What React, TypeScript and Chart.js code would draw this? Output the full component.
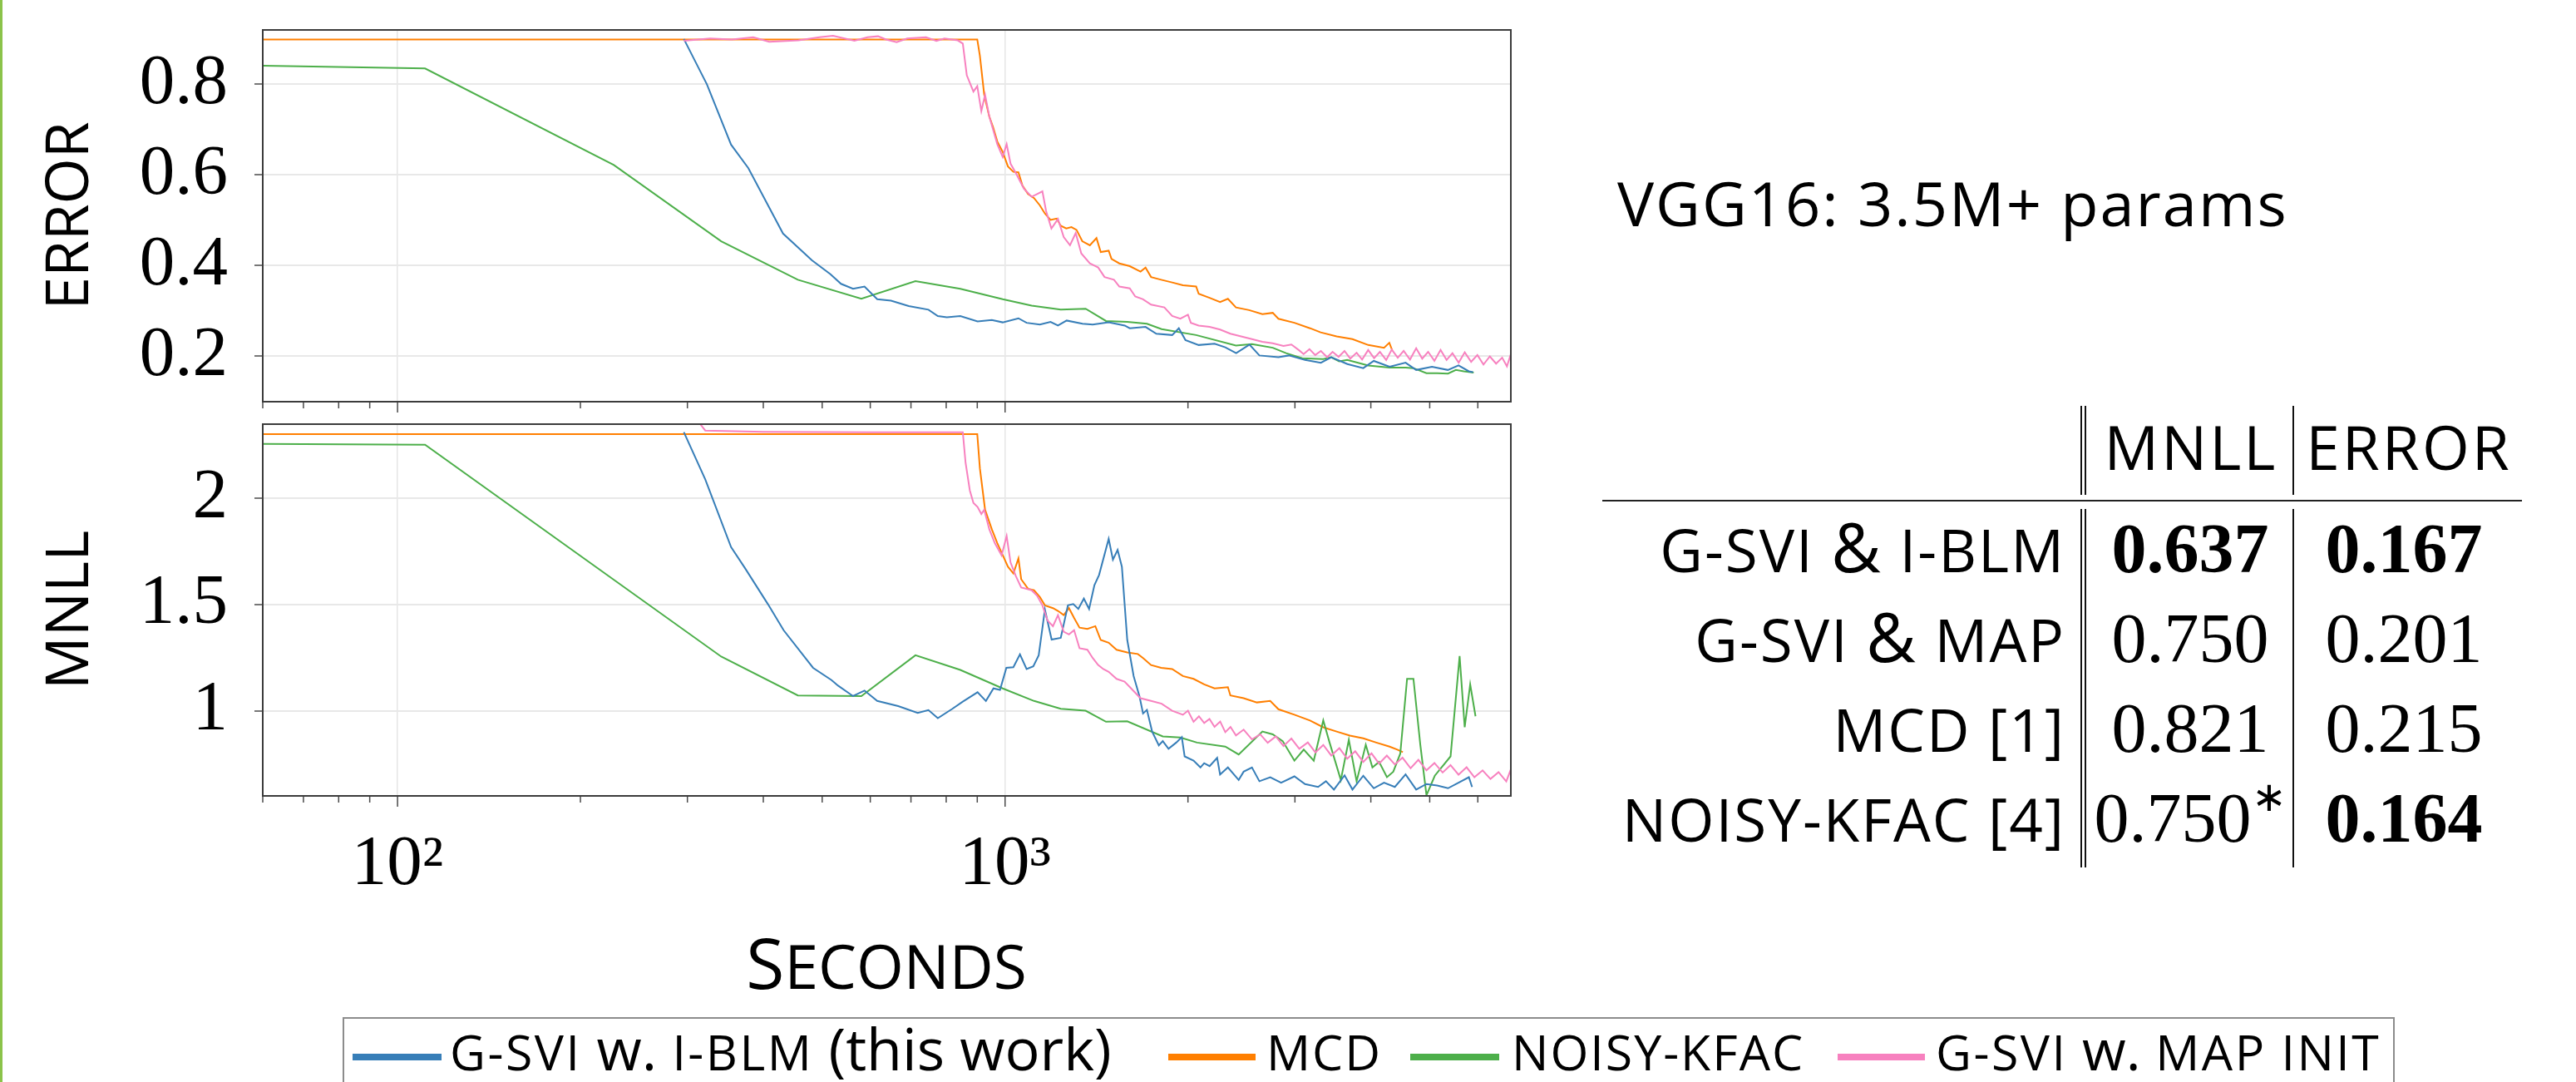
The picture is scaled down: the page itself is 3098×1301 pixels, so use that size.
import React, { useEffect, useRef } from 'react';
import { Chart, registerables } from 'chart.js';

Chart.register(...registerables);

// ---------- axes ----------
const xTicks = [60, 70, 80, 90, 100, 200, 300, 400, 500, 600, 700, 800, 900, 1000, 2000, 3000, 4000, 5000, 6000];
const errTicks = [0.2, 0.4, 0.6, 0.8];
const nllTicks = [1, 1.5, 2];
const X_MIN = 60;
const X_MAX = 6800;

// ---------- series (seconds / value) ----------
const blueErrT = [296, 323, 354, 378, 431, 481, 516, 537, 562, 587, 616, 649, 694, 748, 775, 802, 844, 901, 951, 991, 1052, 1085, 1141, 1188, 1222, 1263, 1341, 1394, 1481, 1574, 1604, 1703, 1774, 1884, 1932, 1981, 2083, 2212, 2304, 2401, 2525, 2622, 2818, 2932, 3117, 3310, 3443, 3660, 3887, 4045, 4295, 4563, 4750, 5043, 5356, 5577, 5800, 5892];
const blueErr = [0.900, 0.800, 0.667, 0.615, 0.471, 0.412, 0.381, 0.360, 0.349, 0.354, 0.326, 0.323, 0.311, 0.303, 0.289, 0.286, 0.289, 0.277, 0.280, 0.275, 0.284, 0.274, 0.270, 0.276, 0.268, 0.279, 0.272, 0.270, 0.275, 0.268, 0.262, 0.265, 0.250, 0.247, 0.262, 0.236, 0.225, 0.228, 0.220, 0.207, 0.226, 0.202, 0.198, 0.202, 0.192, 0.186, 0.198, 0.183, 0.174, 0.190, 0.177, 0.186, 0.170, 0.177, 0.170, 0.180, 0.167, 0.165];

const blueNllT = [296, 321, 354, 373, 407, 432, 483, 518, 531, 562, 587, 616, 667, 718, 748, 775, 819, 852, 901, 930, 957, 981, 1005, 1032, 1058, 1085, 1113, 1136, 1163, 1193, 1235, 1269, 1295, 1320, 1348, 1375, 1403, 1428, 1481, 1505, 1532, 1557, 1589, 1628, 1665, 1687, 1712, 1746, 1791, 1818, 1858, 1913, 1954, 1975, 2043, 2097, 2127, 2171, 2234, 2259, 2327, 2424, 2470, 2549, 2622, 2732, 2847, 2994, 3117, 3275, 3374, 3478, 3621, 3731, 3887, 4045, 4205, 4381, 4563, 4750, 4938, 5144, 5359, 5577, 5800, 5871];
const blueNll = [2.312, 2.09, 1.771, 1.673, 1.503, 1.380, 1.203, 1.145, 1.119, 1.070, 1.096, 1.047, 1.023, 0.991, 1.004, 0.966, 1.010, 1.044, 1.088, 1.047, 1.106, 1.099, 1.203, 1.206, 1.266, 1.197, 1.210, 1.262, 1.477, 1.336, 1.344, 1.497, 1.503, 1.480, 1.529, 1.480, 1.592, 1.640, 1.810, 1.712, 1.758, 1.679, 1.334, 1.164, 1.067, 0.988, 1.005, 0.903, 0.838, 0.858, 0.822, 0.851, 0.877, 0.786, 0.766, 0.734, 0.754, 0.740, 0.779, 0.701, 0.734, 0.675, 0.714, 0.734, 0.669, 0.688, 0.662, 0.692, 0.656, 0.642, 0.669, 0.630, 0.697, 0.630, 0.695, 0.636, 0.662, 0.642, 0.701, 0.630, 0.656, 0.649, 0.636, 0.662, 0.688, 0.642];

const mcdErrT = [60, 900, 909, 924, 942, 956, 971, 991, 1011, 1032, 1052, 1068, 1091, 1116, 1141, 1163, 1188, 1216, 1235, 1261, 1286, 1311, 1340, 1379, 1414, 1437, 1481, 1497, 1542, 1604, 1671, 1703, 1739, 1807, 1884, 1962, 2063, 2083, 2171, 2259, 2327, 2399, 2522, 2652, 2758, 2818, 2994, 3177, 3307, 3514, 3731, 3961, 4205, 4290, 4341];
const mcdErr = [0.899, 0.899, 0.863, 0.777, 0.729, 0.705, 0.674, 0.651, 0.619, 0.607, 0.606, 0.577, 0.558, 0.549, 0.533, 0.515, 0.501, 0.504, 0.488, 0.482, 0.485, 0.479, 0.454, 0.445, 0.461, 0.430, 0.433, 0.415, 0.405, 0.399, 0.387, 0.396, 0.375, 0.369, 0.363, 0.357, 0.354, 0.338, 0.329, 0.320, 0.327, 0.308, 0.302, 0.293, 0.296, 0.283, 0.274, 0.262, 0.253, 0.244, 0.238, 0.225, 0.219, 0.230, 0.212];

const mcdNllT = [60, 900, 909, 927, 951, 971, 991, 1011, 1032, 1052, 1063, 1091, 1116, 1141, 1163, 1199, 1222, 1249, 1274, 1299, 1326, 1366, 1408, 1437, 1481, 1526, 1589, 1654, 1687, 1739, 1807, 1884, 1962, 2043, 2127, 2212, 2327, 2349, 2470, 2597, 2732, 2818, 2994, 3177, 3340, 3514, 3695, 3887, 4084, 4295, 4423, 4516];
const mcdNll = [2.303, 2.303, 2.142, 1.947, 1.855, 1.790, 1.734, 1.679, 1.647, 1.718, 1.620, 1.575, 1.568, 1.536, 1.497, 1.484, 1.471, 1.451, 1.484, 1.438, 1.392, 1.386, 1.399, 1.334, 1.321, 1.288, 1.275, 1.268, 1.249, 1.216, 1.203, 1.197, 1.164, 1.151, 1.125, 1.106, 1.112, 1.073, 1.060, 1.040, 1.047, 1.008, 0.982, 0.955, 0.923, 0.903, 0.884, 0.871, 0.851, 0.832, 0.818, 0.806];

const kfacErrT = [60, 111, 227, 341, 456, 580, 712, 844, 991, 1106, 1235, 1357, 1466, 1589, 1712, 1810, 2063, 2399, 2549, 2758, 2901, 3084, 3340, 3443, 3547, 3658, 3961, 4295, 4563, 4701, 4939, 5144, 5359, 5521, 5691, 5907];
const kfacErr = [0.841, 0.835, 0.622, 0.454, 0.369, 0.327, 0.366, 0.349, 0.326, 0.312, 0.303, 0.305, 0.278, 0.276, 0.272, 0.260, 0.247, 0.224, 0.227, 0.219, 0.207, 0.196, 0.194, 0.198, 0.189, 0.192, 0.180, 0.175, 0.175, 0.174, 0.163, 0.163, 0.162, 0.170, 0.167, 0.164];

const kfacNllT = [60, 111, 341, 456, 580, 712, 844, 991, 1116, 1235, 1357, 1466, 1589, 1818, 1943, 2070, 2304, 2424, 2652, 2758, 2864, 2994, 3102, 3222, 3340, 3421, 3570, 3680, 3790, 3924, 4024, 4127, 4252, 4355, 4472, 4589, 4701, 4826, 4939, 5097, 5411, 5600, 5709, 5829, 5948];
const kfacNll = [2.257, 2.253, 1.256, 1.073, 1.070, 1.262, 1.193, 1.106, 1.047, 1.010, 1.001, 0.949, 0.951, 0.880, 0.875, 0.851, 0.832, 0.795, 0.903, 0.890, 0.858, 0.766, 0.818, 0.766, 0.955, 0.851, 0.675, 0.864, 0.669, 0.841, 0.734, 0.760, 0.688, 0.714, 0.799, 1.151, 1.151, 0.838, 0.603, 0.695, 0.786, 1.258, 0.923, 1.125, 0.975];

const mapErrT = [296, 327, 355, 385, 409, 457, 495, 521, 565, 594, 618, 637, 663, 690, 741, 771, 795, 836, 852, 865, 887, 900, 914, 927, 942, 971, 991, 1006, 1021, 1042, 1074, 1106, 1129, 1152, 1168, 1192, 1222, 1249, 1279, 1307, 1335, 1379, 1423, 1458, 1511, 1542, 1604, 1638, 1687, 1739, 1829, 1884, 1943, 2000, 2022, 2083, 2171, 2259, 2349, 2447, 2549, 2652, 2758, 2873, 2960, 3050, 3100, 3170, 3240, 3310, 3390, 3460, 3540, 3620, 3700, 3790, 3870, 3960, 4050, 4140, 4240, 4330, 4430, 4530, 4640, 4750, 4860, 4970, 5090, 5210, 5330, 5450, 5580, 5710, 5850, 5990, 6130, 6280, 6430, 6580, 6700, 6800];
const mapErr = [0.896, 0.901, 0.899, 0.904, 0.894, 0.897, 0.904, 0.907, 0.896, 0.904, 0.906, 0.899, 0.893, 0.901, 0.904, 0.896, 0.901, 0.897, 0.890, 0.820, 0.784, 0.796, 0.741, 0.777, 0.729, 0.668, 0.640, 0.668, 0.625, 0.604, 0.570, 0.552, 0.558, 0.564, 0.521, 0.482, 0.503, 0.463, 0.445, 0.472, 0.427, 0.405, 0.396, 0.375, 0.369, 0.354, 0.350, 0.332, 0.326, 0.314, 0.308, 0.289, 0.283, 0.292, 0.274, 0.268, 0.265, 0.259, 0.250, 0.244, 0.238, 0.232, 0.229, 0.223, 0.226, 0.213, 0.205, 0.216, 0.203, 0.212, 0.198, 0.210, 0.199, 0.212, 0.195, 0.208, 0.193, 0.214, 0.196, 0.210, 0.192, 0.215, 0.197, 0.212, 0.193, 0.218, 0.195, 0.210, 0.190, 0.214, 0.192, 0.207, 0.186, 0.209, 0.188, 0.203, 0.182, 0.200, 0.184, 0.197, 0.178, 0.205];

const mapNllT = [315, 321, 400, 600, 852, 861, 875, 887, 901, 914, 924, 942, 962, 987, 1006, 1021, 1042, 1063, 1085, 1106, 1129, 1152, 1175, 1199, 1222, 1249, 1274, 1299, 1326, 1366, 1394, 1423, 1451, 1481, 1526, 1573, 1621, 1671, 1739, 1810, 1884, 1962, 2000, 2043, 2085, 2127, 2170, 2212, 2260, 2304, 2350, 2399, 2470, 2549, 2630, 2706, 2790, 2873, 2960, 3050, 3150, 3242, 3340, 3443, 3550, 3658, 3770, 3887, 4010, 4127, 4250, 4381, 4510, 4651, 4790, 4939, 5090, 5251, 5410, 5577, 5750, 5923, 6110, 6295, 6490, 6683, 6800];
const mapNll = [2.350, 2.320, 2.314, 2.312, 2.312, 2.168, 2.038, 1.979, 1.960, 1.927, 1.947, 1.855, 1.790, 1.732, 1.823, 1.699, 1.634, 1.581, 1.575, 1.568, 1.542, 1.497, 1.425, 1.399, 1.451, 1.373, 1.360, 1.380, 1.295, 1.288, 1.249, 1.216, 1.197, 1.184, 1.151, 1.138, 1.099, 1.060, 1.047, 1.034, 1.001, 0.982, 1.001, 0.949, 0.975, 0.943, 0.962, 0.925, 0.950, 0.900, 0.925, 0.885, 0.912, 0.866, 0.890, 0.850, 0.880, 0.835, 0.870, 0.822, 0.852, 0.805, 0.840, 0.790, 0.825, 0.775, 0.810, 0.760, 0.800, 0.752, 0.790, 0.748, 0.780, 0.730, 0.770, 0.720, 0.755, 0.710, 0.745, 0.700, 0.735, 0.688, 0.720, 0.680, 0.712, 0.668, 0.725];

// ---------- table ----------
const tableMethodsA = ['G-SVI', 'G-SVI', 'MCD [1]', 'NOISY-KFAC [4]'];
const tableMethodsB = ['I-BLM', 'MAP', '', ''];
const tableMnll = ['0.637', '0.750', '0.821', '0.750'];
const tableMnllStar = [false, false, false, true];
const tableMnllBold = [true, false, false, false];
const tableError = ['0.167', '0.201', '0.215', '0.164'];
const tableErrorBold = [true, false, false, true];

const COLORS = { blue: '#377eb8', orange: '#ff7f00', green: '#4daf4a', pink: '#f781bf' };
const SANS = "'Open Sans', sans-serif";
const SERIF = "'Liberation Serif', serif";

function pts(t: number[], v: number[]) {
  const n = Math.min(t.length, v.length);
  const out: { x: number; y: number }[] = [];
  for (let i = 0; i < n; i++) out.push({ x: t[i], y: v[i] });
  return out;
}

const tickFramePlugin = {
  id: 'tickFrame',
  afterDraw(chart: any) {
    const { ctx, chartArea: a, scales } = chart;
    const xs = scales.x;
    ctx.save();
    ctx.strokeStyle = '#4a4a4a';
    ctx.lineWidth = 1.5;
    for (const t of xTicks) {
      const px = xs.getPixelForValue(t);
      const lg = Math.log10(t);
      const major = Math.abs(lg - Math.round(lg)) < 1e-9;
      ctx.beginPath();
      ctx.moveTo(px, a.bottom);
      ctx.lineTo(px, a.bottom + (major ? 13 : 8));
      ctx.stroke();
    }
    ctx.strokeStyle = '#3c3c3c';
    ctx.lineWidth = 2;
    ctx.strokeRect(a.left, a.top, a.right - a.left, a.bottom - a.top);
    ctx.restore();
  },
};

function buildConfig(kind: 'err' | 'nll'): any {
  const isErr = kind === 'err';
  const datasets = isErr
    ? [
        { label: 'G-SVI w. MAP init', data: pts(mapErrT, mapErr), borderColor: COLORS.pink, order: 0 },
        { label: 'G-SVI w. I-BLM (this work)', data: pts(blueErrT, blueErr), borderColor: COLORS.blue, order: 1 },
        { label: 'Noisy-KFAC', data: pts(kfacErrT, kfacErr), borderColor: COLORS.green, order: 2 },
        { label: 'MCD', data: pts(mcdErrT, mcdErr), borderColor: COLORS.orange, order: 3 },
      ]
    : [
        { label: 'G-SVI w. MAP init', data: pts(mapNllT, mapNll), borderColor: COLORS.pink, order: 0 },
        { label: 'G-SVI w. I-BLM (this work)', data: pts(blueNllT, blueNll), borderColor: COLORS.blue, order: 1 },
        { label: 'Noisy-KFAC', data: pts(kfacNllT, kfacNll), borderColor: COLORS.green, order: 2 },
        { label: 'MCD', data: pts(mcdNllT, mcdNll), borderColor: COLORS.orange, order: 3 },
      ];
  datasets.forEach((d: any) => {
    d.borderWidth = 2;
    d.pointRadius = 0;
    d.tension = 0;
    d.fill = false;
  });
  return {
    type: 'line',
    data: { datasets },
    plugins: [tickFramePlugin],
    options: {
      responsive: false,
      animation: false,
      layout: {
        padding: isErr ? { left: 0, right: 13, top: 36, bottom: 17 } : { left: 0, right: 13, top: 10, bottom: 0 },
      },
      plugins: { legend: { display: false }, tooltip: { enabled: false } },
      scales: {
        x: {
          type: 'logarithmic',
          min: X_MIN,
          max: X_MAX,
          border: { display: false },
          afterBuildTicks: (s: any) => {
            s.ticks = xTicks.map((v) => ({ value: v }));
          },
          afterFit: (s: any) => {
            s.height = isErr ? 0 : 143;
            s.paddingLeft = 0;
            s.paddingRight = 0;
          },
          grid: {
            drawTicks: false,
            lineWidth: 1.5,
            color: (c: any) =>
              c.tick && (c.tick.value === 100 || c.tick.value === 1000) ? '#e6e6e6' : 'rgba(0,0,0,0)',
          },
          ticks: {
            display: !isErr,
            autoSkip: false,
            maxRotation: 0,
            padding: 33,
            color: '#000',
            font: { family: SERIF, size: 85 },
            callback: (v: any) => (v === 100 ? '10²' : v === 1000 ? '10³' : ''),
          },
        },
        y: {
          type: 'linear',
          min: isErr ? 0.1 : 0.6,
          max: isErr ? 0.92 : 2.35,
          border: { display: false },
          afterBuildTicks: (s: any) => {
            s.ticks = (isErr ? errTicks : nllTicks).map((v) => ({ value: v }));
          },
          afterFit: (s: any) => {
            s.width = 316;
            s.paddingTop = 0;
            s.paddingBottom = 0;
          },
          grid: { color: '#e8e8e8', lineWidth: 2, tickLength: 10, tickColor: '#4a4a4a', tickWidth: 1.5 },
          ticks: {
            padding: 32,
            color: '#000',
            font: { family: SERIF, size: 85 },
            callback: (v: any) => String(v),
          },
          title: {
            display: true,
            text: isErr ? 'ERROR' : 'MNLL',
            color: '#000',
            font: { family: SANS, size: 71 },
            padding: { top: 43, bottom: 0 },
          },
        },
      },
    },
  };
}

function Panel({ kind, top, height }: { kind: 'err' | 'nll'; top: number; height: number }) {
  const ref = useRef<HTMLCanvasElement | null>(null);
  useEffect(() => {
    if (!ref.current) return;
    const chart = new Chart(ref.current, buildConfig(kind));
    return () => chart.destroy();
  }, [kind]);
  return (
    <canvas
      ref={ref}
      width={1830}
      height={height}
      style={{ position: 'absolute', left: 0, top, width: 1830, height }}
    />
  );
}

type TP = {
  x: number;
  y: number;
  size: number;
  serif?: boolean;
  align?: 'left' | 'right' | 'center';
  bold?: boolean;
  ls?: number;
  children: any;
};

function T({ x, y, size, serif, align = 'left', bold, ls, children }: TP) {
  const k = serif ? 0.8375 : 0.888;
  const style: any = {
    position: 'absolute',
    top: y - k * size,
    fontSize: size,
    lineHeight: `${size}px`,
    fontFamily: serif ? SERIF : SANS,
    fontWeight: bold ? 700 : 400,
    whiteSpace: 'nowrap',
    color: '#000',
    letterSpacing: ls ? `${ls}px` : 'normal',
  };
  if (align === 'left') style.left = x;
  else if (align === 'right') {
    style.right = 3098 - x;
    style.textAlign = 'right';
  } else {
    style.left = x - 1000;
    style.width = 2000;
    style.textAlign = 'center';
  }
  return <div style={style}>{children}</div>;
}

const SC = ({ children }: { children: any }) => (
  <span style={{ fontSize: 59, letterSpacing: '2.5px', lineHeight: 0 }}>{children}</span>
);

function VLine({ x, y1, y2 }: { x: number; y1: number; y2: number }) {
  return <div style={{ position: 'absolute', left: x, top: y1, width: 1.5, height: y2 - y1, background: '#111' }} />;
}

function Swatch({ x1, x2, color }: { x1: number; x2: number; color: string }) {
  return <div style={{ position: 'absolute', left: x1, top: 1267, width: x2 - x1, height: 8, background: color }} />;
}

export default function App() {
  const rowBase = [688, 796, 904, 1012];
  return (
    <div
      style={{
        position: 'absolute',
        left: 0,
        top: 0,
        width: 3098,
        height: 1301,
        overflow: 'hidden',
        background: '#ffffff',
      }}
    >
      <div style={{ position: 'absolute', left: 0, top: 0, width: 3, height: 1301, background: '#8bc34a' }} />
      <Panel kind="err" top={0} height={500} />
      <Panel kind="nll" top={500} height={600} />

      <T x={1066} y={1190} size={84} align="center">
        S<span style={{ fontSize: 73, lineHeight: 0 }}>ECONDS</span>
      </T>

      {/* right panel */}
      <T x={1945} y={273} size={74} ls={2}>
        VGG16: 3.5M+ params
      </T>
      <T x={2635} y={565} size={73} align="center" ls={3}>
        MNLL
      </T>
      <T x={2897} y={565} size={73} align="center" ls={3}>
        ERROR
      </T>
      <div style={{ position: 'absolute', left: 1927, top: 601, width: 1106, height: 2, background: '#222' }} />
      <VLine x={2502} y1={488} y2={595} />
      <VLine x={2507} y1={488} y2={595} />
      <VLine x={2757} y1={488} y2={595} />
      <VLine x={2502} y1={612} y2={1043} />
      <VLine x={2507} y1={612} y2={1043} />
      <VLine x={2757} y1={612} y2={1043} />
      {tableMethodsA.map((m, i) => (
        <T key={'m' + i} x={2484} y={rowBase[i]} size={71} align="right" ls={2}>
          {tableMethodsB[i] ? (
            <>
              {m} <span style={{ fontSize: 82, lineHeight: 0 }}>&amp;</span> {tableMethodsB[i]}
            </>
          ) : (
            m
          )}
        </T>
      ))}
      {tableMnll.map((v, i) => (
        <T key={'n' + i} x={2634} y={rowBase[i]} size={84} serif align="center" bold={tableMnllBold[i]}>
          {v}
          {tableMnllStar[i] ? (
            <span style={{ fontSize: 50, verticalAlign: '0.75em', lineHeight: 0 }}>∗</span>
          ) : null}
        </T>
      ))}
      {tableError.map((v, i) => (
        <T key={'e' + i} x={2891} y={rowBase[i]} size={84} serif align="center" bold={tableErrorBold[i]}>
          {v}
        </T>
      ))}

      {/* legend */}
      <div
        style={{
          position: 'absolute',
          left: 412,
          top: 1223,
          width: 2464,
          height: 140,
          borderTop: '2px solid #8c8c8c',
          borderLeft: '2px solid #8c8c8c',
          borderRight: '2px solid #8c8c8c',
        }}
      />
      <Swatch x1={424} x2={531} color={COLORS.blue} />
      <T x={541} y={1287} size={70}>
        <SC>G-SVI</SC> w. <SC>I-BLM</SC> (this work)
      </T>
      <Swatch x1={1405} x2={1510} color={COLORS.orange} />
      <T x={1523} y={1287} size={59} ls={2}>
        MCD
      </T>
      <Swatch x1={1696} x2={1803} color={COLORS.green} />
      <T x={1818} y={1287} size={59} ls={2}>
        NOISY-KFAC
      </T>
      <Swatch x1={2210} x2={2315} color={COLORS.pink} />
      <T x={2328} y={1287} size={68}>
        <SC>G-SVI</SC> w. <SC>MAP INIT</SC>
      </T>
    </div>
  );
}
